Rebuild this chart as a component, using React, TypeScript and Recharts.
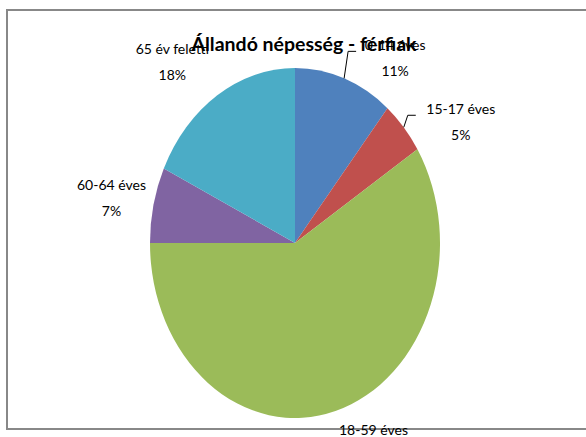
import { PieChart, Pie, Cell } from "recharts"

const categories = ["0-14 éves", "15-17 éves", "18-59 éves", "60-64 éves", "65 év feletti"]
const shares = [11, 5, 59, 7, 18]
const colors = ["#4F81BD", "#C0504D", "#9BBB59", "#8064A2", "#4BACC6"]

const data = categories.map((name, i) => ({ name, value: shares[i] }))

// pie is drawn as a stretched ellipse like the Excel original
const RX = 145
const RY = 175
const RAD = Math.PI / 180

// label nudges relative to the slice edge (Excel "best fit" placement)
const labelNudge = [
  { dx: 51, dy: -21, line: true },
  { dx: 57, dy: -6, line: true },
  { dx: 38, dy: 31, line: false },
  { dx: -42, dy: -8, line: false },
  { dx: -45, dy: -34, line: false },
]

const edge = (cx: number, cy: number, angle: number) => ({
  x: cx + RX * Math.cos(-angle * RAD),
  y: cy + RY * Math.sin(-angle * RAD),
})

function EllipseSector(props: any) {
  const { cx, cy, startAngle, endAngle, fill } = props
  const a = edge(cx, cy, startAngle)
  const b = edge(cx, cy, endAngle)
  const large = Math.abs(endAngle - startAngle) > 180 ? 1 : 0
  const sweep = startAngle > endAngle ? 1 : 0
  const d = `M${cx},${cy} L${a.x},${a.y} A${RX},${RY} 0 ${large} ${sweep} ${b.x},${b.y} Z`
  return <path d={d} fill={fill} stroke="none" />
}

function SliceLabel(props: any) {
  const { cx, cy, midAngle, index, name, percent } = props
  const p = edge(cx, cy, midAngle)
  const n = labelNudge[index]
  const lx = p.x + n.dx
  const ly = p.y + n.dy
  return (
    <g>
      {n.line && (
        <polyline
          points={`${p.x},${p.y} ${p.x + 4},${ly - 6} ${p.x + 12},${ly - 6}`}
          fill="none"
          stroke="#000"
          strokeWidth={1}
        />
      )}
      <text x={lx} y={ly - 7} textAnchor="middle" fontSize={14} fill="#000" fontFamily="Lato">
        {name}
      </text>
      <text x={lx} y={ly + 19} textAnchor="middle" fontSize={14} fill="#000" fontFamily="Lato">
        {`${Math.round(percent * 100)}%`}
      </text>
    </g>
  )
}

export default function App() {
  return (
    <div style={{ position: "fixed", left: 0, top: 0, width: 586, height: 437, background: "#fff" }}>
      <PieChart width={586} height={437} margin={{ top: 0, right: 0, bottom: 0, left: 0 }}>
        <Pie
          data={data}
          dataKey="value"
          nameKey="name"
          cx={295}
          cy={243}
          outerRadius={RX}
          startAngle={90}
          endAngle={-270}
          shape={EllipseSector}
          label={SliceLabel}
          labelLine={false}
          isAnimationActive={false}
        >
          {data.map((d, i) => (
            <Cell key={d.name} fill={colors[i]} />
          ))}
        </Pie>
        <text x={304} y={51} textAnchor="middle" fontSize={19.5} fontWeight="bold" fill="#000" fontFamily="Lato">
          Állandó népesség - férfiak
        </text>
        <rect x={7} y={10} width={600} height={419} fill="none" stroke="#888" strokeWidth={2} />
      </PieChart>
    </div>
  )
}
